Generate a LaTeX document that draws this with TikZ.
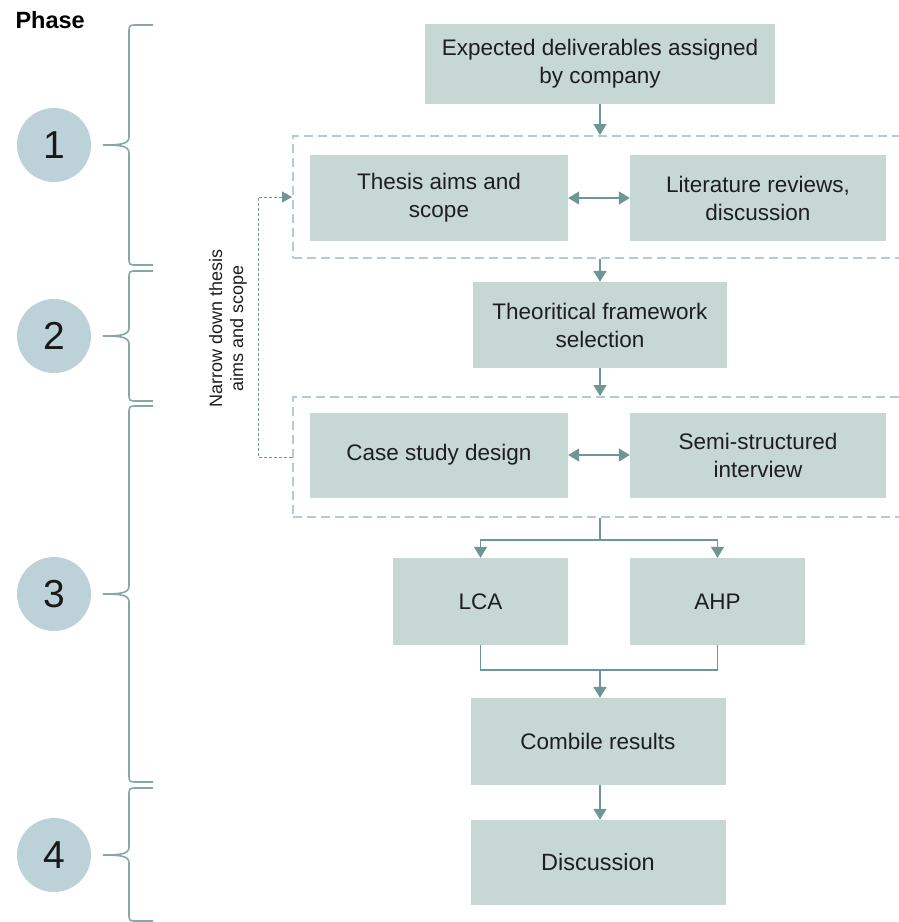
\documentclass[tikz,border=0pt]{standalone}
\usepackage{fontspec}
\setmainfont{Liberation Sans}
\usetikzlibrary{arrows.meta}

\definecolor{boxfill}{HTML}{C6D7D4}
\definecolor{arrowcol}{HTML}{6E9692}
\definecolor{bracecol}{HTML}{86A8A4}
\definecolor{circfill}{HTML}{BDD1D9}
\definecolor{groupcol}{HTML}{B5CAD2}
\definecolor{txt}{HTML}{1E1E1E}

\begin{document}
\begin{tikzpicture}[x=1pt,y=-1pt,
  stepbox/.style={fill=boxfill, inner sep=2pt, align=center, text=txt,
    font=\fontsize{22.5}{28}\selectfont},
  groupbox/.style={draw=groupcol, line width=2pt, dash pattern=on 9pt off 5pt,
    inner sep=0pt},
  phasecirc/.style={circle, fill=circfill, minimum size=74pt, inner sep=0pt,
    font=\fontsize{39}{40}\selectfont, text=black!90},
  conn/.style={draw=arrowcol, line width=1.5pt},
  arr/.style={conn, -{Triangle[length=11pt,width=13pt]}},
  dblarr/.style={conn, {Triangle[length=11pt,width=13pt]}-{Triangle[length=11pt,width=13pt]}},
  feedback/.style={draw=arrowcol, line width=1pt, dash pattern=on 3pt off 2pt,
    -{Triangle[length=10pt,width=11pt]}},
  bracepath/.style={draw=bracecol, line width=1.6pt}
]
\useasboundingbox (0,0) rectangle (898,922);

% heading
\node[font=\fontsize{23.5}{24}\selectfont\bfseries, anchor=west] (phase) at (12,20) {Phase};

% phase markers
\node[phasecirc] (p1) at (54,145) {1};
\node[phasecirc] (p2) at (54,336) {2};
\node[phasecirc] (p3) at (54,594) {3};
\node[phasecirc] (p4) at (54,855) {4};

% curly braces: spine at x=129, tip at x=103, ends at x=153
\foreach \ya/\ym/\yb in {25/145/265, 271/336/401, 406/594/782, 788/855/921}{
  \draw[bracepath] (153,\ya) -- (137,\ya) .. controls (129,\ya) .. (129,\ya+8)
    -- (129,\ym-8) .. controls (129,\ym-1) and (121,\ym) .. (103,\ym)
    .. controls (121,\ym) and (129,\ym+1) .. (129,\ym+8)
    -- (129,\yb-8) .. controls (129,\yb) .. (137,\yb) -- (153,\yb);
}

% process steps
\node[stepbox, minimum width=350pt, minimum height=80pt] (deliv) at (600,64)
  {Expected deliverables assigned\\by company};

\node[groupbox, minimum width=614pt, minimum height=122pt] (g1) at (600,197) {};
\node[stepbox, minimum width=258pt, minimum height=86pt] (aims) at (439,198)
  {Thesis aims and\\scope};
\node[stepbox, minimum width=256pt, minimum height=86pt] (lit) at (758,198)
  {Literature reviews,\\discussion};

\node[stepbox, minimum width=254pt, minimum height=86pt] (frame) at (600,325)
  {Theoritical framework\\selection};

\node[groupbox, minimum width=614pt, minimum height=120pt] (g2) at (600,457) {};
\node[stepbox, minimum width=258pt, minimum height=85pt] (case) at (439,455)
  {Case study design};
\node[stepbox, minimum width=256pt, minimum height=85pt] (semi) at (758,455)
  {Semi-structured\\interview};

\node[stepbox, minimum width=175pt, minimum height=87pt] (lca) at (480.5,601.5) {LCA};
\node[stepbox, minimum width=175pt, minimum height=87pt] (ahp) at (717.5,601.5) {AHP};

\node[stepbox, minimum width=255pt, minimum height=87pt] (comb) at (598,741.5)
  {Combile results};
\node[stepbox, minimum width=255pt, minimum height=85pt,
  font=\fontsize{23.5}{28}\selectfont] (disc) at (598,862.5) {Discussion};

% feedback label
\node[rotate=90, align=center, text=txt, font=\fontsize{18}{21}\selectfont]
  (narrow) at (228,328) {Narrow down thesis\\aims and scope};

% connectors
\draw[arr] (deliv.south -| 600,0) -- (600,0 |- g1.north);
\draw[dblarr] (aims.east) -- (lit.west);
\draw[arr] (600,0 |- g1.south) -- (600,0 |- frame.north);
\draw[arr] (600,0 |- frame.south) -- (600,0 |- g2.north);
\draw[dblarr] (case.east) -- (semi.west);

\coordinate (split) at (600,540);
\draw[conn] (600,0 |- g2.south) -- (split);
\draw[arr] (split) -| (lca.north);
\draw[arr] (split) -| (ahp.north);

\coordinate (merge) at (600,670);
\draw[conn] (lca.south) |- (merge) -| (ahp.south);
\draw[arr] (merge) -- (600,0 |- comb.north);
\draw[arr] (600,0 |- comb.south) -- (600,0 |- disc.north);

\draw[feedback] (g2.west) -- ++(-34,0) |- (g1.west);
\end{tikzpicture}
\end{document}
